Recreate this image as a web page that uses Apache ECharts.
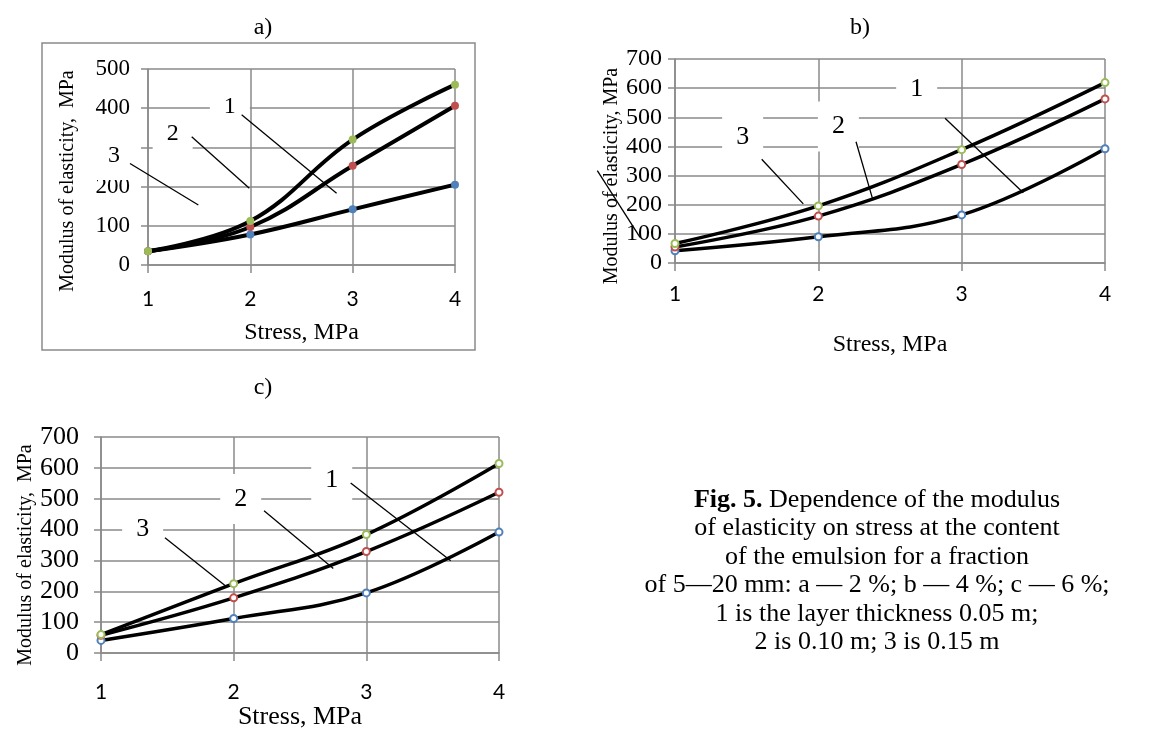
<!DOCTYPE html>
<html>
<head>
<meta charset="utf-8">
<script src="https://cdn.jsdelivr.net/npm/echarts@6/dist/echarts.min.js"></script>
<style>
  html, body { margin: 0; padding: 0; background: #fff; }
  #chart { width: 1154px; height: 731px; }
</style>
</head>
<body>
<div id="chart"></div>
<script>
// stress values on every x axis, MPa
const stress = [1, 2, 3, 4];

// a) emulsion 2 %
const aLayer1 = [35, 78, 142, 205];
const aLayer2 = [35, 97, 253, 406];
const aLayer3 = [35, 112, 320, 460];
// b) emulsion 4 %
const bLayer1 = [42, 90, 165, 392];
const bLayer2 = [55, 161, 338, 563];
const bLayer3 = [67, 196, 389, 619];
// c) emulsion 6 %
const cLayer1 = [41, 112, 195, 392];
const cLayer2 = [58, 179, 329, 521];
const cLayer3 = [60, 225, 384, 614];

const yMax = [500, 700, 700];
const panelTitles = ['a)', 'b)', 'c)'];

// callout labels and leader lines, in data units of each panel
const calloutsA = [
  { text: '1', at: [1.80, 403], from: [1.915, 383], to: [2.843, 183] },
  { text: '2', at: [1.241, 336], from: [1.427, 327], to: [1.990, 196] },
  { text: '3', at: [0.668, 278], from: [0.824, 259], to: [1.492, 153] },
];
const calloutsB = [
  { text: '1', at: [2.686, 596], from: [2.884, 497], to: [3.430, 241] },
  { text: '2', at: [2.140, 468], from: [2.263, 416], to: [2.379, 219] },
  { text: '3', at: [1.472, 433], from: [1.605, 356], to: [1.895, 203] },
  { text: '', from: [0.458, 317], to: [0.756, 88] },
];
const calloutsC = [
  { text: '1', at: [2.739, 561], from: [2.882, 551], to: [3.636, 299] },
  { text: '2', at: [2.053, 499], from: [2.229, 461], to: [2.751, 274] },
  { text: '3', at: [1.314, 400], from: [1.482, 374], to: [1.935, 219] },
];

const captionLines = [
  '{b|Fig. 5.} Dependence of the modulus',
  'of elasticity on stress at the content',
  'of the emulsion for a fraction',
  'of 5\u201420 mm: a \u2014 2 %; b \u2014 4 %; c \u2014 6 %;',
  '1 is the layer thickness 0.05 m;',
  '2 is 0.10 m; 3 is 0.15 m',
];

const SERIF = '"Liberation Serif", "Times New Roman", serif';
const GRID_GREY = '#8a8a8a';
const GREEN = '#9bbb59', RED = '#c0504d', BLUE = '#4f81bd';

const chart = echarts.init(document.getElementById('chart'));

function xAxis(idx, nameSize, nameGap, margin) {
  return {
    gridIndex: idx, type: 'value', min: 1, max: 4, interval: 1,
    axisLine: { lineStyle: { color: GRID_GREY, width: 1.5 } },
    axisTick: { show: true, length: 8, lineStyle: { color: GRID_GREY, width: 1.5 } },
    axisLabel: { fontFamily: 'Lato', fontSize: 21, color: '#000', margin },
    splitLine: { show: true, lineStyle: { color: GRID_GREY, width: 1.5 } },
    name: 'Stress, MPa', nameLocation: 'middle', nameGap,
    nameTextStyle: { fontFamily: SERIF, fontSize: nameSize, color: '#000' },
  };
}

function yAxis(idx, name, fontSize, margin, nameGap, shift) {
  return {
    gridIndex: idx, type: 'value', min: 0, max: yMax[idx], interval: 100,
    axisLine: { show: true, lineStyle: { color: GRID_GREY, width: 1.5 } },
    axisTick: { show: true, length: 7, lineStyle: { color: GRID_GREY, width: 1.5 } },
    axisLabel: { fontFamily: SERIF, fontSize, color: '#000', margin },
    splitLine: { show: true, lineStyle: { color: GRID_GREY, width: 1.5 } },
    name, nameLocation: 'middle', nameGap,
    nameTextStyle: { fontFamily: SERIF, fontSize: 20, color: '#000', padding: [0, shift, 0, 0] },
  };
}

function layer(idx, values, color, hollow, width) {
  return {
    type: 'line', xAxisIndex: idx, yAxisIndex: idx,
    data: stress.map((x, i) => [x, values[i]]),
    smooth: 0.4,
    symbol: hollow ? 'emptyCircle' : 'circle',
    symbolSize: hollow ? 7 : 8,
    showSymbol: true,
    itemStyle: { color, borderColor: color, borderWidth: hollow ? 2 : 0 },
    lineStyle: { color: '#000', width },
    emphasis: { disabled: true },
    z: 3,
  };
}

chart.setOption({
  animation: false,
  grid: [
    { left: 148, top: 69, width: 307, height: 196 },
    { left: 675, top: 59, width: 430, height: 204 },
    { left: 101, top: 437, width: 398, height: 225 },
  ],
  xAxis: [xAxis(0, 24, 56, 24), xAxis(1, 24, 70, 21), xAxis(2, 26, 44, 29)],
  yAxis: [
    yAxis(0, 'Modulus of elasticity,  MPa', 23, 18, 70, 28),
    yAxis(1, 'Modulus of elasticity, MPa', 24, 13, 46, 30),
    yAxis(2, 'Modulus of elasticity,  MPa', 26, 22, 63, 20),
  ],
  series: [
    layer(0, aLayer1, BLUE, false, 4), layer(0, aLayer2, RED, false, 4), layer(0, aLayer3, GREEN, false, 4),
    layer(1, bLayer1, BLUE, true, 3.5), layer(1, bLayer2, RED, true, 3.5), layer(1, bLayer3, GREEN, true, 3.5),
    layer(2, cLayer1, BLUE, true, 3.5), layer(2, cLayer2, RED, true, 3.5), layer(2, cLayer3, GREEN, true, 3.5),
  ],
});

// callouts are placed through each grid's own scales
function calloutGraphics(gridIndex, list, fontSize) {
  const out = [];
  list.forEach(c => {
    const p1 = chart.convertToPixel({ gridIndex }, c.from);
    const p2 = chart.convertToPixel({ gridIndex }, c.to);
    if (c.text) {
      const p = chart.convertToPixel({ gridIndex }, c.at);
      out.push({
        type: 'text', x: p[0], y: p[1], z: 100,
        style: {
          text: c.text, font: fontSize + 'px ' + SERIF, fill: '#000',
          align: 'center', verticalAlign: 'middle',
          backgroundColor: '#fff', padding: [12, 14],
        },
      });
    }
    out.push({
      type: 'line', z: 101,
      shape: { x1: p1[0], y1: p1[1], x2: p2[0], y2: p2[1] },
      style: { stroke: '#000', lineWidth: 1.3 },
    });
  });
  return out;
}

const titlePos = [[263, 28], [860, 28], [263, 388]];

chart.setOption({
  graphic: [
    {
      type: 'rect', z: 0, silent: true,
      shape: { x: 42, y: 43, width: 433, height: 307 },
      style: { fill: 'none', stroke: GRID_GREY, lineWidth: 1.5 },
    },
    ...panelTitles.map((t, i) => ({
      type: 'text', x: titlePos[i][0], y: titlePos[i][1],
      style: { text: t, font: '24px ' + SERIF, fill: '#000', align: 'center', verticalAlign: 'middle' },
    })),
    {
      type: 'text', x: 877, y: 486,
      style: {
        text: captionLines.join('\n'), font: '26px ' + SERIF, fill: '#000',
        align: 'center', verticalAlign: 'top', lineHeight: 28.4,
        rich: { b: { fontWeight: 'bold', fontSize: 26, fontFamily: SERIF, lineHeight: 28.4 } },
      },
    },
    ...calloutGraphics(0, calloutsA, 24),
    ...calloutGraphics(1, calloutsB, 26),
    ...calloutGraphics(2, calloutsC, 26),
  ],
});
</script>
</body>
</html>
